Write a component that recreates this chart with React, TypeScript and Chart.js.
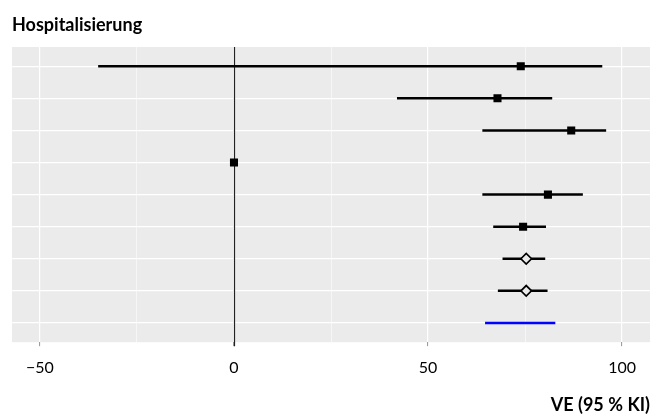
import React, { useEffect, useRef } from "react";
import { Chart, registerables } from "chart.js";

Chart.register(...registerables);

// Row labels (not shown in the figure)
const ROWS = ["Studie 1", "Studie 2", "Studie 3", "Studie 4", "Studie 5", "Studie 6", "Modell A", "Modell B", "Gepoolt"];
const VE_POINT: (number | null)[] = [73.9, 67.9, 86.9, 0, 80.9, 74.5, 75.3, 75.3, null];
const CI_LOWER: (number | null)[] = [-35.0, 42.0, 64.0, null, 64.0, 66.8, 69.2, 68.0, 64.7];
const CI_UPPER: (number | null)[] = [94.9, 82.0, 95.9, null, 89.9, 80.4, 80.2, 80.8, 82.8];
const MARKER = ["square", "square", "square", "square", "square", "square", "diamond", "diamond", "none"];
const ROW_COLOR = ["#000000", "#000000", "#000000", "#000000", "#000000", "#000000", "#000000", "#000000", "#0000ff"];
const X_TICKS = [-50, -25, 0, 25, 50, 75, 100];
const X_MIN = -57.2;
const X_MAX = 107.2;
const TITLE = "Hospitalisierung";
const X_TITLE = "VE (95\u202F% KI)";

const FONT = "Lato, 'Open Sans', sans-serif";
const PANEL = "#EBEBEB";

export default function App() {
  const ref = useRef<HTMLCanvasElement | null>(null);

  useEffect(() => {
    document.body.style.margin = "0";
    const canvas = ref.current;
    if (!canvas) return;

    const datasets: any[] = [];
    ROWS.forEach((_, i) => {
      const lo = CI_LOWER[i];
      const hi = CI_UPPER[i];
      if (lo !== null && hi !== null) {
        datasets.push({
          type: "line",
          data: [
            { x: lo, y: i + 1 },
            { x: hi, y: i + 1 },
          ],
          borderColor: ROW_COLOR[i],
          borderWidth: i === ROWS.length - 1 ? 2.6 : 2.5,
          pointRadius: 0,
          fill: false,
          order: 2,
        });
      }
    });
    const squares: any[] = [];
    const diamonds: any[] = [];
    ROWS.forEach((_, i) => {
      const v = VE_POINT[i];
      if (v === null) return;
      if (MARKER[i] === "square") squares.push({ x: v, y: i + 1 });
      else if (MARKER[i] === "diamond") diamonds.push({ x: v, y: i + 1 });
    });
    datasets.push({
      type: "scatter",
      data: squares,
      pointStyle: "rect",
      pointRadius: 5.7,
      backgroundColor: "#000000",
      borderColor: "#000000",
      borderWidth: 0,
      order: 1,
    });
    datasets.push({
      type: "scatter",
      data: diamonds,
      pointStyle: "rectRot",
      pointRadius: 5.3,
      backgroundColor: PANEL,
      borderColor: "#000000",
      borderWidth: 1.7,
      order: 1,
    });

    const panelPlugin = {
      id: "panel",
      beforeDraw(chart: any) {
        const { ctx, chartArea: a } = chart;
        ctx.save();
        ctx.fillStyle = PANEL;
        ctx.fillRect(a.left, a.top, a.right - a.left, a.bottom - a.top);
        ctx.restore();
      },
      beforeDatasetsDraw(chart: any) {
        const { ctx, chartArea: a, scales } = chart;
        const x0 = Math.round(scales.x.getPixelForValue(0)) + 0.5;
        ctx.save();
        ctx.strokeStyle = "#222222";
        ctx.lineWidth = 1.2;
        ctx.beginPath();
        ctx.moveTo(x0, a.top);
        ctx.lineTo(x0, a.bottom + 4);
        ctx.stroke();
        ctx.restore();
      },
    };

    const chart = new Chart(canvas, {
      type: "scatter",
      data: { datasets },
      plugins: [panelPlugin],
      options: {
        responsive: false,
        animation: false,
        layout: { padding: { left: 12, right: 7, top: 0, bottom: 0 } },
        plugins: {
          legend: { display: false },
          tooltip: { enabled: false },
          title: {
            display: true,
            text: TITLE,
            align: "start",
            color: "#000000",
            font: { family: FONT, size: 18, weight: "bold", lineHeight: 1.2 },
            padding: { top: 14, bottom: 11.4 },
          },
        },
        scales: {
          x: {
            type: "linear",
            min: X_MIN,
            max: X_MAX,
            afterBuildTicks: (axis: any) => {
              axis.ticks = X_TICKS.map((v) => ({ value: v }));
            },
            border: { display: false },
            grid: {
              color: "#ffffff",
              lineWidth: (c: any) => (c.tick && c.tick.value % 50 === 0 ? 1.2 : 0.55),
              drawTicks: true,
              tickLength: 4,
              tickColor: (c: any) => (c.tick && c.tick.value % 50 === 0 ? "#777777" : "rgba(0,0,0,0)"),
              tickWidth: 0.8,
            },
            ticks: {
              autoSkip: false,
              maxRotation: 0,
              padding: 12,
              color: "#000000",
              font: { family: FONT, size: 16, lineHeight: 1.2 },
              callback: (v: any) => {
                const n = Number(v);
                if (n % 50 !== 0) return "";
                return n < 0 ? "\u2212" + Math.abs(n) : String(n);
              },
            },
            title: {
              display: true,
              text: X_TITLE,
              align: "end",
              color: "#000000",
              font: { family: FONT, size: 18, weight: "bold", lineHeight: 1.2 },
              padding: { top: 5, bottom: 0 },
            },
          },
          y: {
            type: "linear",
            min: 0.4,
            max: 9.6,
            reverse: true,
            afterBuildTicks: (axis: any) => {
              axis.ticks = ROWS.map((_, i) => ({ value: i + 1 }));
            },
            afterFit: (s: any) => {
              s.width = 0;
            },
            border: { display: false },
            grid: { color: "#ffffff", lineWidth: 1.2, drawTicks: false },
            ticks: { display: false },
          },
        },
      },
    } as any);

    return () => chart.destroy();
  }, []);

  return (
    <div style={{ width: 657, height: 416 }}>
      <canvas ref={ref} width={657} height={416} />
    </div>
  );
}
